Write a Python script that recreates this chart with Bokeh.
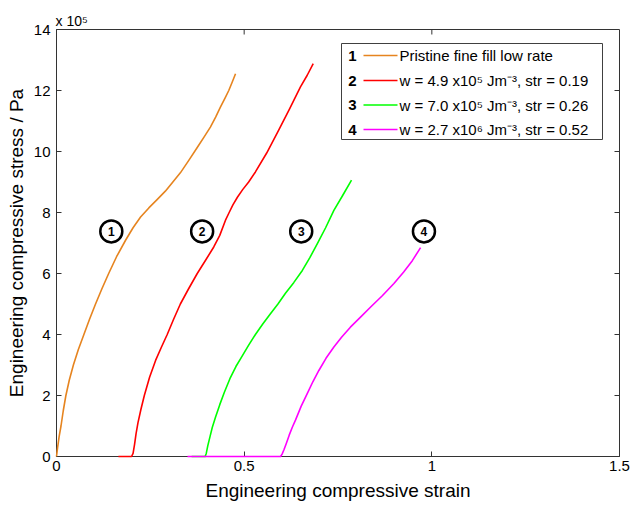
from bokeh.plotting import figure
from bokeh.models import Range1d, FixedTicker, NumeralTickFormatter
from bokeh.core.properties import value
from bokeh.embed import file_html
from bokeh.resources import INLINE

# ---------------- data (stress in units of 1e5 Pa) ----------------
x1 = [0, 0.003, 0.007, 0.012, 0.018, 0.025, 0.034, 0.045, 0.058, 0.073, 0.088, 0.104, 0.121, 0.139,
      0.160, 0.184, 0.204, 0.224, 0.246, 0.268, 0.290, 0.310, 0.330, 0.352, 0.375, 0.393, 0.410,
      0.424, 0.437, 0.449, 0.459, 0.468, 0.477]
y1 = [0, 0.3, 0.65, 1.0, 1.5, 2.0, 2.5, 3.0, 3.5, 4.0, 4.5, 5.0, 5.5, 6.0,
      6.55, 7.09, 7.5, 7.85, 8.15, 8.42, 8.7, 9.0, 9.3, 9.7, 10.13, 10.47, 10.8,
      11.13, 11.46, 11.75, 12.0, 12.27, 12.55]

x2 = [0.165, 0.200, 0.204, 0.208, 0.212, 0.217, 0.225, 0.234, 0.248, 0.264, 0.280, 0.295, 0.312,
      0.330, 0.352, 0.375, 0.398, 0.419, 0.435, 0.450, 0.460, 0.470, 0.482, 0.496, 0.512, 0.530,
      0.560, 0.592, 0.621, 0.650, 0.668, 0.684]
y2 = [0, 0, 0.1, 0.4, 0.75, 1.1, 1.55, 2.0, 2.6, 3.15, 3.6, 4.0, 4.5,
      5.0, 5.5, 6.0, 6.45, 6.87, 7.25, 7.74, 8.0, 8.25, 8.5, 8.75, 9.0, 9.33,
      9.95, 10.7, 11.4, 12.12, 12.5, 12.88]

x3 = [0.360, 0.396, 0.399, 0.403, 0.409, 0.415, 0.424, 0.435, 0.447, 0.462, 0.478, 0.495, 0.512,
      0.530, 0.550, 0.570, 0.590, 0.610, 0.632, 0.655, 0.675, 0.695, 0.717, 0.739, 0.762, 0.786]
y3 = [0, 0, 0.1, 0.35, 0.65, 0.95, 1.3, 1.7, 2.1, 2.55, 2.95, 3.3, 3.65,
      4.0, 4.35, 4.68, 5.0, 5.35, 5.7, 6.1, 6.52, 6.98, 7.5, 8.07, 8.55, 9.06]

x4 = [0.349, 0.597, 0.601, 0.606, 0.612, 0.620, 0.628, 0.637, 0.652, 0.668, 0.683, 0.699, 0.718,
      0.739, 0.760, 0.783, 0.810, 0.837, 0.868, 0.899, 0.925, 0.948, 0.970]
y4 = [0, 0, 0.08, 0.22, 0.42, 0.7, 0.95, 1.2, 1.65, 2.06, 2.45, 2.82, 3.22,
      3.59, 3.92, 4.24, 4.57, 4.9, 5.27, 5.67, 6.05, 6.42, 6.85]

series_x = [x1, x2, x3, x4]
series_y = [y1, y2, y3, y4]
series_colors = ["#E6841F", "#FF0000", "#00FF00", "#FF00FF"]
series_nums = ["1", "2", "3", "4"]
series_labels = [
    "Pristine fine fill low rate",
    "w = 4.9 x10\u2075 Jm\u207b\u00b3, str = 0.19",
    "w = 7.0 x10\u2075 Jm\u207b\u00b3, str = 0.26",
    "w = 2.7 x10\u2076 Jm\u207b\u00b3, str = 0.52",
]

circ_x = [0.146, 0.388, 0.652, 0.979]
circ_y = [7.38, 7.38, 7.38, 7.38]

x_ticks = [0, 0.5, 1, 1.5]
y_ticks = [0, 2, 4, 6, 8, 10, 12, 14]

# ---------------- layout ----------------
FONT = "Liberation Sans"
AX = "#333333"
FL, FT, FW, FH = 56, 29, 563, 427
XMAX, YMAX = 1.5, 14
TICK = 5


def dx(px):
    return (px - FL) / FW * XMAX


def dy(py):
    return (FT + FH - py) / FH * YMAX


p = figure(frame_width=FW, frame_height=FH,
           x_range=Range1d(0, XMAX), y_range=Range1d(0, YMAX),
           output_backend="svg", toolbar_location=None,
           min_border_left=FL, min_border_right=11,
           min_border_top=FT, min_border_bottom=49,
           title="x 10\u2075")
p.grid.visible = False
p.outline_line_color = AX
p.background_fill_color = "white"
p.border_fill_color = "white"

p.title.text_font = FONT
p.title.text_font_size = "14px"
p.title.text_font_style = "normal"
p.title.text_color = "black"
p.title.align = "left"
p.title.offset = -1
p.title.standoff = 1

for ax, ticks in ((p.xaxis[0], x_ticks), (p.yaxis[0], y_ticks)):
    ax.ticker = FixedTicker(ticks=ticks)
    ax.formatter = NumeralTickFormatter(format="0.[0]")
    ax.major_tick_in = TICK
    ax.major_tick_out = 0
    ax.minor_tick_line_color = None
    ax.axis_line_color = AX
    ax.major_tick_line_color = AX
    ax.major_label_text_font = FONT
    ax.major_label_text_font_size = "15px"
    ax.major_label_text_color = "black"
    ax.axis_label_text_font = FONT
    ax.axis_label_text_font_size = "19px"
    ax.axis_label_text_font_style = "normal"
    ax.axis_label_text_color = "black"

p.xaxis[0].axis_label = "Engineering compressive strain"
p.yaxis[0].axis_label = "Engineering compressive stress / Pa"
p.xaxis[0].major_label_standoff = 4
p.xaxis[0].axis_label_standoff = 6
p.yaxis[0].major_label_standoff = 6
p.yaxis[0].axis_label_standoff = 4

# inward ticks on the top and right edges of the box
top_ticks = [t for t in x_ticks if 0 < t < XMAX]
right_ticks = [t for t in y_ticks if 0 < t < YMAX]
tick_dy = TICK / FH * YMAX
tick_dx = TICK / FW * XMAX
p.segment(x0=top_ticks, x1=top_ticks, y0=[YMAX] * len(top_ticks),
          y1=[YMAX - tick_dy] * len(top_ticks), line_color=AX, line_width=1)
p.segment(x0=[XMAX] * len(right_ticks), x1=[XMAX - tick_dx] * len(right_ticks),
          y0=right_ticks, y1=right_ticks, line_color=AX, line_width=1)

# curves (drawn above the axis line so the flat parts at zero stay visible)
for xs, ys, c in zip(series_x, series_y, series_colors):
    p.line(xs, ys, line_color=c, line_width=1.6, line_join="round", level="overlay")

# circled numbers
p.scatter(circ_x, circ_y, marker="circle", size=22, fill_color="white",
          line_color="black", line_width=2.5)
p.text(circ_x, circ_y, text=series_nums, text_font=value(FONT), text_font_size="12px",
       text_font_style="bold", text_align="center", text_baseline="middle", text_color="black")

# legend
p.quad(left=dx(341), right=dx(602), top=dy(43), bottom=dy(139),
       fill_color="white", line_color="#404040", line_width=1)
rows = [dy(py) for py in (55, 80, 104.5, 129)]
p.text([dx(352)] * 4, rows, text=series_nums, text_font=value(FONT), text_font_size="15px",
       text_font_style="bold", text_align="center", text_baseline="middle", text_color="black")
p.segment(x0=[dx(363)] * 4, x1=[dx(397)] * 4, y0=rows, y1=rows, line_color=series_colors, line_width=1.6)
p.text([dx(399)] * 4, rows, text=series_labels, text_font=value(FONT), text_font_size="15px",
       text_align="left", text_baseline="middle", text_color="black")

open("out.html", "w").write(file_html(p, INLINE))
